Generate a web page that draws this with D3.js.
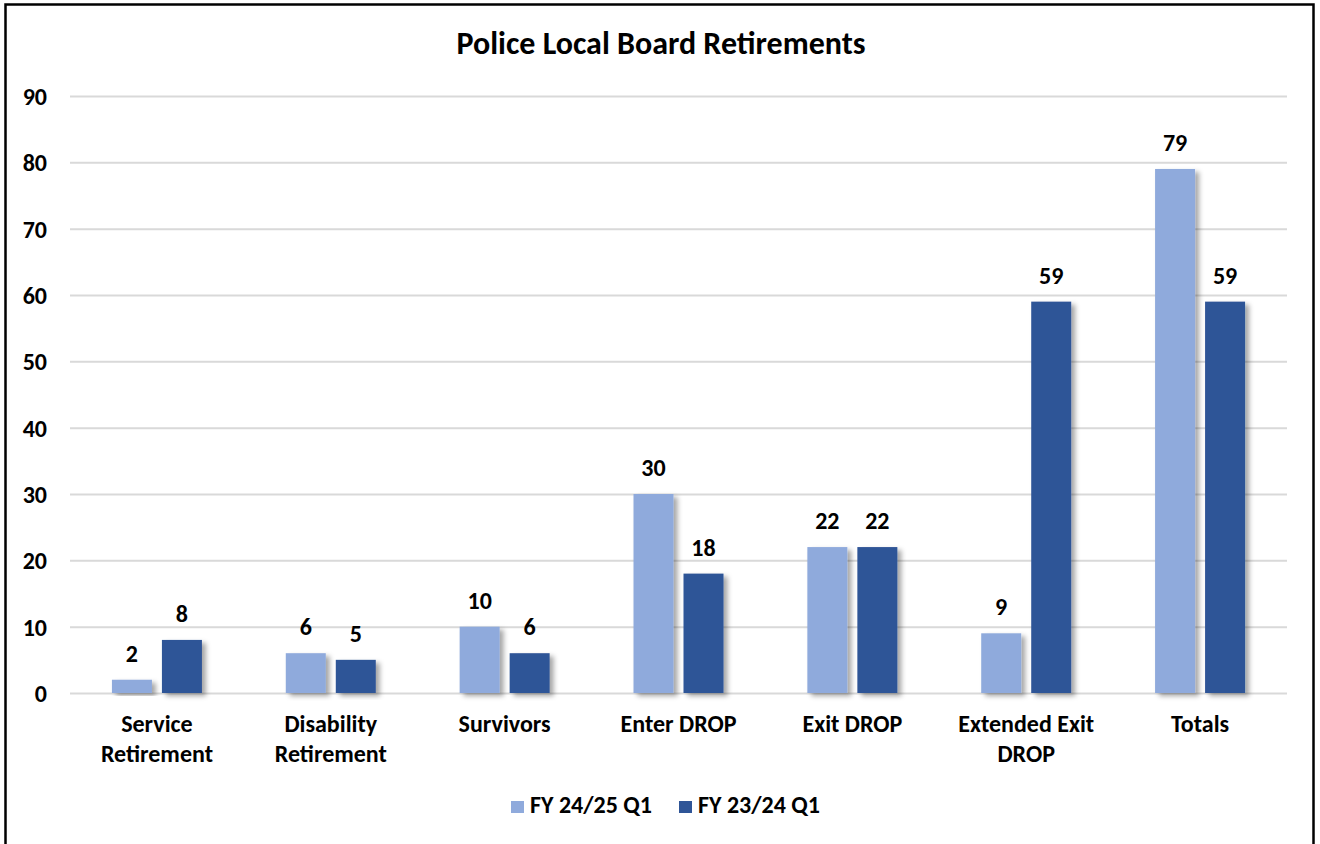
<!DOCTYPE html>
<html>
<head>
<meta charset="utf-8">
<script src="https://cdn.jsdelivr.net/npm/d3@7"></script>
<style>
  body { margin: 0; background: #fff; }
  text { font-family: Calibri, Carlito, Lato, sans-serif; font-weight: bold; fill: #000; }
</style>
</head>
<body>
<script>
// chart data
var categories = [["Service", "Retirement"], ["Disability", "Retirement"], ["Survivors"],
    ["Enter DROP"], ["Exit DROP"], ["Extended Exit", "DROP"], ["Totals"]];
var seriesNames = ["FY 24/25 Q1", "FY 23/24 Q1"];
var fy2425 = [2, 6, 10, 30, 22, 9, 79];
var fy2324 = [8, 5, 6, 18, 22, 59, 59];
var yTicks = [0, 10, 20, 30, 40, 50, 60, 70, 80, 90];
var colors = ["#8FAADC", "#2F5597"];

var W = 1320, H = 844;
var margin = {top: 96, right: 33, bottom: 151, left: 70},
    width = W - margin.left - margin.right,
    height = H - margin.top - margin.bottom;

var svg = d3.select("body").append("svg")
    .attr("width", W)
    .attr("height", H);

// drop shadow like the office chart
var f = svg.append("defs").append("filter")
    .attr("id", "shadow")
    .attr("x", "-20%").attr("y", "-20%")
    .attr("width", "160%").attr("height", "140%");
f.append("feDropShadow")
    .attr("dx", 4).attr("dy", 3)
    .attr("stdDeviation", 2.5)
    .attr("flood-color", "#000")
    .attr("flood-opacity", 0.35);

// outer frame
svg.append("rect")
    .attr("x", 5.5).attr("y", 4.5)
    .attr("width", 1308).attr("height", 860)
    .attr("fill", "none")
    .attr("stroke", "#000")
    .attr("stroke-width", 2.5);

svg.append("text")
    .attr("x", 661).attr("y", 54)
    .attr("text-anchor", "middle")
    .style("font-size", "32px")
    .text("Police Local Board Retirements");

var g = svg.append("g")
    .attr("transform", "translate(" + margin.left + "," + margin.top + ")");

var x = d3.scaleBand().domain(d3.range(categories.length)).range([0, width]);
var xs = d3.scaleBand().domain([0, 1]).range([x.bandwidth() / 2 - 45, x.bandwidth() / 2 + 45]).paddingInner(0.2);
var y = d3.scaleLinear().domain([0, 90]).range([height, 0]);

// gridlines
g.append("g")
    .call(d3.axisLeft(y).tickValues(yTicks).tickSize(-width).tickFormat(""))
    .call(function(s) {
        s.select(".domain").remove();
        s.selectAll("line").attr("stroke", "#d9d9d9").attr("stroke-width", 2);
    });

// y labels
var yAxis = g.append("g")
    .call(d3.axisLeft(y).tickValues(yTicks).tickSize(0).tickPadding(23));
yAxis.select(".domain").remove();
yAxis.selectAll("text").style("font-size", "24px").attr("dy", "0.35em");

var data = [fy2425, fy2324];

var groups = g.selectAll(".grp")
    .data(categories)
    .enter().append("g")
    .attr("transform", function(d, i) { return "translate(" + x(i) + ",0)"; });

groups.each(function(c, i) {
    var grp = d3.select(this);
    data.forEach(function(ser, s) {
        grp.append("rect")
            .attr("x", xs(s))
            .attr("y", y(ser[i]))
            .attr("width", xs.bandwidth())
            .attr("height", height - y(ser[i]))
            .attr("fill", colors[s])
            .attr("filter", "url(#shadow)");
        grp.append("text")
            .attr("x", xs(s) + xs.bandwidth() / 2)
            .attr("y", y(ser[i]) - 18)
            .attr("text-anchor", "middle")
            .style("font-size", "24px")
            .text(ser[i]);
    });
    var t = grp.append("text")
        .attr("x", x.bandwidth() / 2)
        .attr("y", height + 39)
        .attr("text-anchor", "middle")
        .style("font-size", "24px");
    c.forEach(function(line, k) {
        t.append("tspan")
            .attr("x", x.bandwidth() / 2)
            .attr("dy", k === 0 ? 0 : 30)
            .text(line);
    });
});

// legend
var legX = [511, 679];
var leg = svg.append("g");
seriesNames.forEach(function(n, i) {
    leg.append("rect")
        .attr("x", legX[i]).attr("y", 801)
        .attr("width", 13).attr("height", 12)
        .attr("fill", colors[i]);
    leg.append("text")
        .attr("x", legX[i] + 19).attr("y", 813)
        .style("font-size", "24px")
        .text(n);
});
</script>
</body>
</html>
